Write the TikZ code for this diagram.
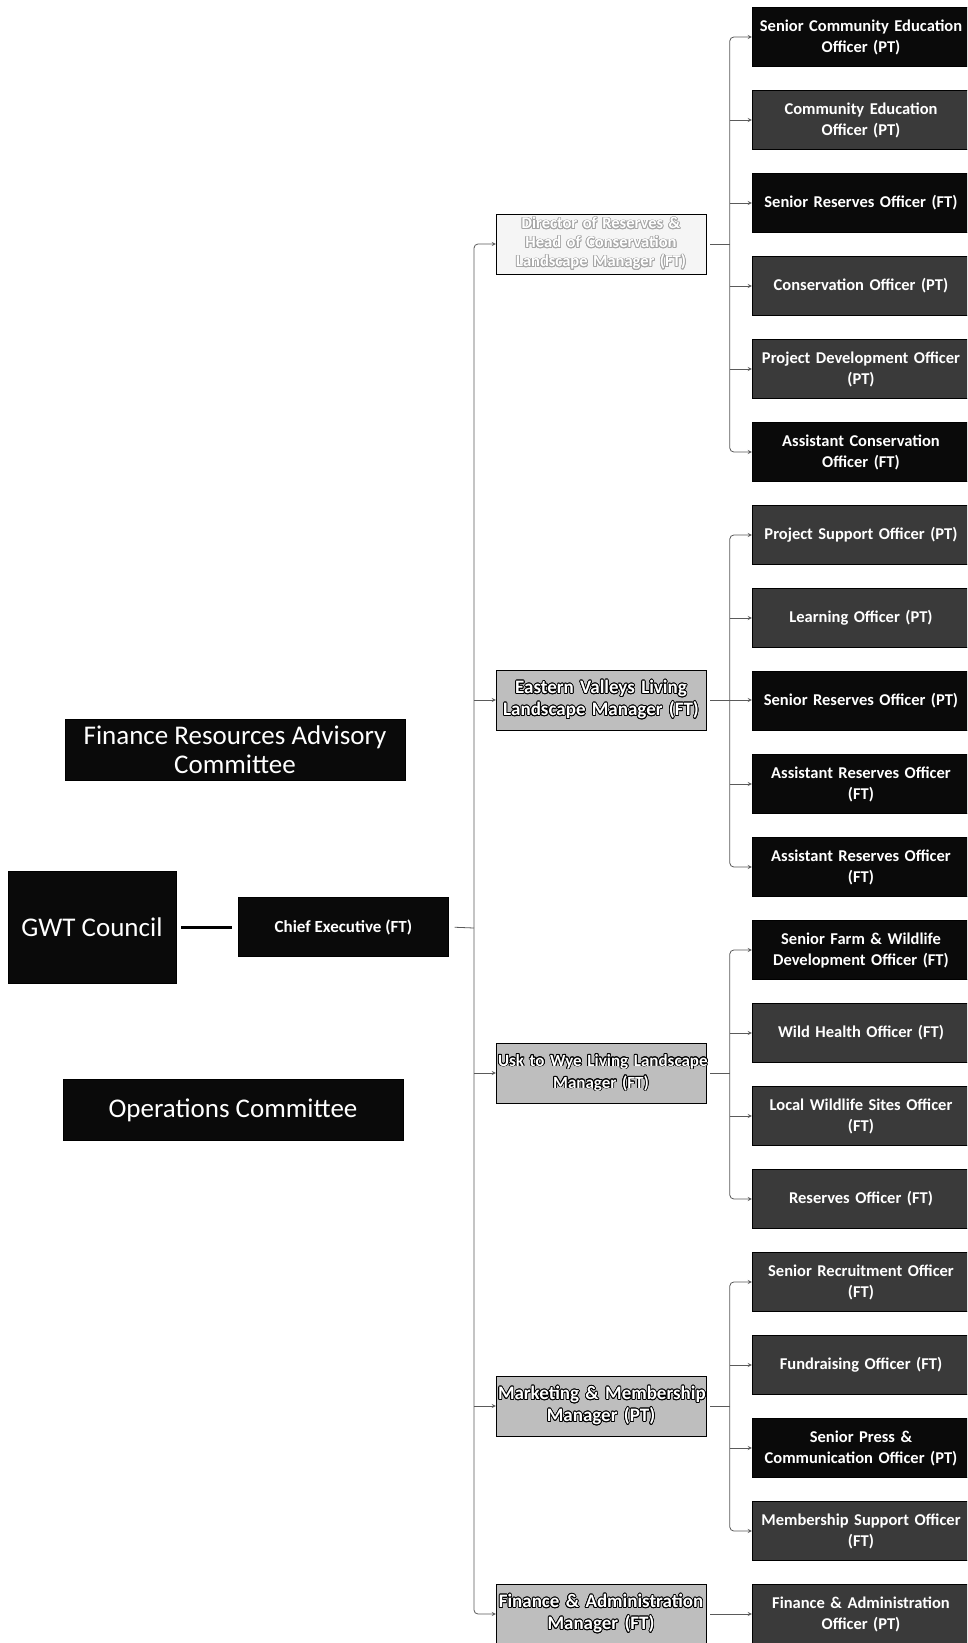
\documentclass[tikz,border=0pt]{standalone}
\usepackage{fontspec}
\setmainfont{Carlito}
\usepackage{contour}
\contourlength{0.8pt}
\usetikzlibrary{positioning,calc}

\definecolor{boxblack}{HTML}{0A0A0A}
\definecolor{boxdark}{HTML}{3A3A3A}
\definecolor{boxlight}{HTML}{BEBEBE}
\definecolor{linegray}{HTML}{5A5A5A}

\newcommand{\mgrline}[1]{\contour{black}{#1}}
\newcommand{\dirline}[1]{\contour{gray!70}{#1}}

\tikzset{
  unit/.style={draw=black, fill=boxblack, text=white, align=center, inner sep=2pt},
  committee/.style={unit, minimum width=340pt, minimum height=61pt, font=\fontsize{27}{29}\selectfont},
  council/.style={unit, minimum width=168pt, minimum height=112pt, font=\fontsize{27}{30}\selectfont},
  chiefbox/.style={unit, minimum width=210pt, minimum height=59pt, font=\bfseries\fontsize{17}{20}\selectfont},
  manager/.style={unit, fill=boxlight, minimum width=210pt, minimum height=60pt, text width=206pt, font=\bfseries\fontsize{19}{22}\selectfont},
  director/.style={manager, fill=gray!8, inner sep=0pt, font=\bfseries\fontsize{16.5}{19}\selectfont},
  officer/.style={unit, minimum width=218pt, minimum height=59pt, text width=210pt, font=\bfseries\fontsize{16.5}{21}\selectfont},
  link/.style={draw=linegray, line width=0.8pt},
}

\begin{document}
\begin{tikzpicture}[x=1pt,y=-1pt,>=stealth]
   \useasboundingbox[fill=white] (0,0) rectangle (967,1643);
   \clip (0,0) rectangle (967,1643);

   % board and committees
   \node[council] (gwt) at (92,927) {GWT Council};
   \node[chiefbox] (chief) [right=62pt of gwt] {Chief Executive (FT)};
   \node[committee] (frac) at (235,750) {Finance Resources Advisory\\Committee};
   \node[committee] (ops) at (233,1110) {Operations Committee};

   % managers
   \node[director] (dir) at (601,244) {\dirline{Director of Reserves \&}\\\dirline{Head of Conservation}\\\dirline{Landscape Manager (FT)}};
   \node[manager] (evl) at (601,700) {\mgrline{Eastern Valleys Living}\\\mgrline{Landscape Manager (FT)}};
   \node[manager, font=\bfseries\fontsize{17}{22}\selectfont] (uwl) at (601,1073) {\mgrline{Usk to Wye Living Landscape}\\\mgrline{Manager (FT)}};
   \node[manager] (mkt) at (601,1406) {\mgrline{Marketing \& Membership}\\\mgrline{Manager (PT)}};
   \node[manager] (fin) at (601,1614) {\mgrline{Finance \& Administration}\\\mgrline{Manager (FT)}};

   % officers
   \foreach \txt/\tone [count=\i] in {
      {Senior Community Education\\Officer (PT)}/boxblack,
      {Community Education\\Officer (PT)}/boxdark,
      {Senior Reserves Officer (FT)}/boxblack,
      {Conservation Officer (PT)}/boxdark,
      {Project Development Officer\\(PT)}/boxdark,
      {Assistant Conservation\\Officer (FT)}/boxblack,
      {Project Support Officer (PT)}/boxdark,
      {Learning Officer (PT)}/boxdark,
      {Senior Reserves Officer (PT)}/boxblack,
      {Assistant Reserves Officer\\(FT)}/boxblack,
      {Assistant Reserves Officer\\(FT)}/boxblack,
      {Senior Farm \& Wildlife\\Development Officer (FT)}/boxblack,
      {Wild Health Officer (FT)}/boxdark,
      {Local Wildlife Sites Officer\\(FT)}/boxdark,
      {Reserves Officer (FT)}/boxdark,
      {Senior Recruitment Officer\\(FT)}/boxdark,
      {Fundraising Officer (FT)}/boxdark,
      {Senior Press \&\\Communication Officer (PT)}/boxblack,
      {Membership Support Officer\\(FT)}/boxdark,
      {Finance \& Administration\\Officer (PT)}/boxdark}
      \node[officer, fill=\tone] (o\i) at (861,{37+83*(\i-1)}) {\txt};

   % connectors
   \coordinate (bus) at (474,928);
   \draw[line width=3pt, shorten >=6pt, shorten <=5pt] (gwt) -- (chief);
   \draw[link, shorten <=6pt] (chief.east) -- (bus);
   \draw[link, <->, rounded corners=4pt] (dir.west) -- (dir.west -| bus) -- (fin.west -| bus) -- (fin.west);
   \foreach \m in {evl,uwl,mkt}
      \draw[link, ->] (\m.west -| bus) -- (\m.west);

   \draw[link, <->, rounded corners=4pt] (o1.west) -- ++(-22,0) |- (o6.west);
   \draw[link, <->, rounded corners=4pt] (o7.west) -- ++(-22,0) |- (o11.west);
   \draw[link, <->, rounded corners=4pt] (o12.west) -- ++(-22,0) |- (o15.west);
   \draw[link, <->, rounded corners=4pt] (o16.west) -- ++(-22,0) |- (o19.west);
   \foreach \i in {2,3,4,5,8,10,13,14,17,18}
      \draw[link, ->] ([xshift=-22pt]o\i.west) -- (o\i.west);

   \draw[link, shorten <=4pt] (dir.east) -- ++(24,0);
   \draw[link, shorten <=4pt] (uwl.east) -- ++(24,0);
   \draw[link, shorten <=4pt] (mkt.east) -- ++(24,0);
   \draw[link, ->, shorten <=4pt] (evl.east) -- (evl.east -| o9.west);
   \draw[link, ->, shorten <=4pt] (fin.east) -- (fin.east -| o20.west);
\end{tikzpicture}
\end{document}
